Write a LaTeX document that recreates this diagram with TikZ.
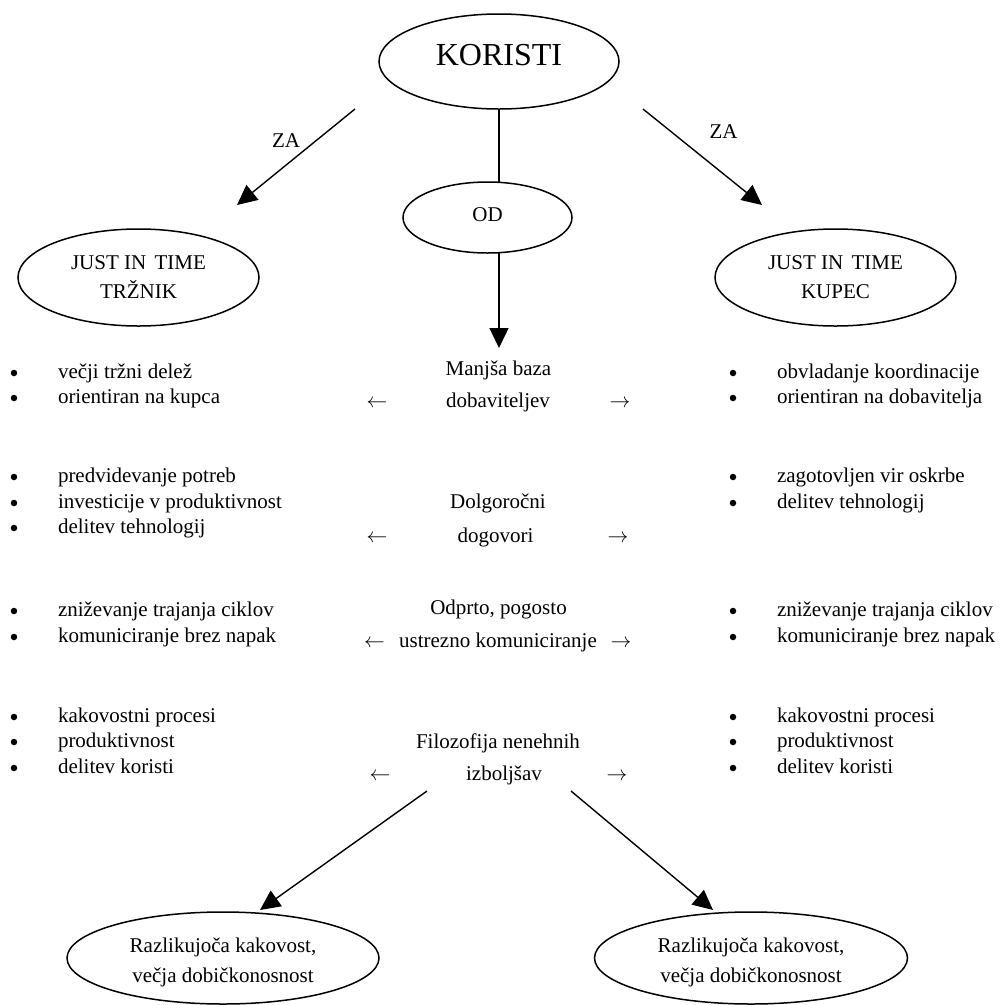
\documentclass[tikz,border=0pt]{standalone}
\usepackage{fontspec}
\setmainfont{Liberation Serif}
\usetikzlibrary{shapes.geometric,arrows.meta}
\newcommand\larr{$\leftarrow$}
\newcommand\rarr{$\rightarrow$}
\begin{document}
\begin{tikzpicture}[x=1pt, y=-1pt,
  every node/.style={inner sep=0pt, outer sep=0pt},
  txt/.style={font=\fontsize{21}{25}\selectfont, anchor=base},
  item/.style={font=\fontsize{21}{25}\selectfont, anchor=base west},
  bul/.style={circle, fill=black, minimum size=6.5pt},
  oval/.style={draw, ellipse, line width=1.5pt, fill=white, align=center,
               font=\fontsize{21}{29}\selectfont},
  conn/.style={line width=1.4pt},
  arr/.style={conn, -{Triangle[length=20pt, width=19pt]}},
]
\useasboundingbox (0,0) rectangle (1000,1005);

% --- top: KORISTI, OD and the two customers ---
\node[oval, minimum width=240pt, minimum height=95pt, text height=22pt, text depth=15pt,
      font=\fontsize{32}{36}\selectfont] (kor) at (499,61.5) {KORISTI};
\node[oval, minimum width=169pt, minimum height=71pt, text height=14pt, text depth=7pt]
      (od) at (487.5,217.5) {OD};
\node[oval, minimum width=241pt, minimum height=97pt] (jitL) at (138.5,277.5)
      {JUST IN\hspace{0.4em}TIME\\TRŽNIK};
\node[oval, minimum width=241pt, minimum height=97pt] (jitR) at (835.5,277.5)
      {JUST IN\hspace{0.4em}TIME\\KUPEC};

\coordinate (zaL0) at (355,109);
\coordinate (zaL1) at (237,205);
\coordinate (zaR0) at (643,109);
\coordinate (zaR1) at (762,205);
\draw[arr] (zaL0) -- (zaL1);
\draw[arr] (zaR0) -- (zaR1);
\node[txt] (zaLt) at (286,147) {ZA};
\node[txt] (zaRt) at (723.5,138) {ZA};

\coordinate (odtip) at (499,348);
\draw[conn] (kor.south) -- (kor.south |- od.north);
\draw[arr] (od.south -| kor.south) -- (odtip);

% --- middle column ---
\node[txt] (m1a) at (498.5,375) {Manjša baza};
\node[txt] (m1b) at (498,407) {dobaviteljev};
\node[txt] (m1l) at (377,407) {\larr};
\node[txt] (m1r) at (620,407) {\rarr};

\node[txt] (m2a) at (498,508) {Dolgoročni};
\node[txt] (m2b) at (495.5,542) {dogovori};
\node[txt] (m2l) at (377,542) {\larr};
\node[txt] (m2r) at (618,542) {\rarr};

\node[txt] (m3a) at (498.5,614) {Odprto, pogosto};
\node[txt] (m3b) at (498,647) {ustrezno komuniciranje};
\node[txt] (m3l) at (374.5,647) {\larr};
\node[txt] (m3r) at (621,647) {\rarr};

\node[txt] (m4a) at (498,748) {Filozofija nenehnih};
\node[txt] (m4b) at (504,780) {izboljšav};
\node[txt] (m4l) at (380,780) {\larr};
\node[txt] (m4r) at (617,780) {\rarr};

% --- left list ---
\foreach \n/\yy/\t in {
  1/378/večji tržni delež, 2/403/orientiran na kupca,
  3/482/predvidevanje potreb, 4/508/investicije v produktivnost, 5/533/delitev tehnologij,
  6/616/zniževanje trajanja ciklov, 7/642/komuniciranje brez napak,
  8/722/kakovostni procesi, 9/747/produktivnost, 10/773/delitev koristi} {
  \node[bul] (lb\n) at (14,\yy-5) {};
  \node[item] (lt\n) at (58,\yy) {\t};
}

% --- right list ---
\foreach \n/\yy/\t in {
  1/378/obvladanje koordinacije, 2/403/orientiran na dobavitelja,
  3/482/zagotovljen vir oskrbe, 4/508/delitev tehnologij,
  6/616/zniževanje trajanja ciklov, 7/642/komuniciranje brez napak,
  8/722/kakovostni procesi, 9/747/produktivnost, 10/773/delitev koristi} {
  \node[bul] (rb\n) at (733,\yy-5) {};
  \node[item] (rt\n) at (777,\yy) {\t};
}

% --- bottom: results ---
\node[oval, minimum width=312pt, minimum height=92pt, font=\fontsize{21}{30}\selectfont]
      (resL) at (223,958) {\rule{0pt}{23pt}Razlikujoča kakovost,\\večja dobičkonosnost};
\node[oval, minimum width=313pt, minimum height=92pt, font=\fontsize{21}{30}\selectfont]
      (resR) at (751,958) {\rule{0pt}{23pt}Razlikujoča kakovost,\\večja dobičkonosnost};

\coordinate (fL0) at (427,791);
\coordinate (fL1) at (260,910);
\coordinate (fR0) at (571,791);
\coordinate (fR1) at (713,910);
\draw[arr] (fL0) -- (fL1);
\draw[arr] (fR0) -- (fR1);
\end{tikzpicture}
\end{document}
